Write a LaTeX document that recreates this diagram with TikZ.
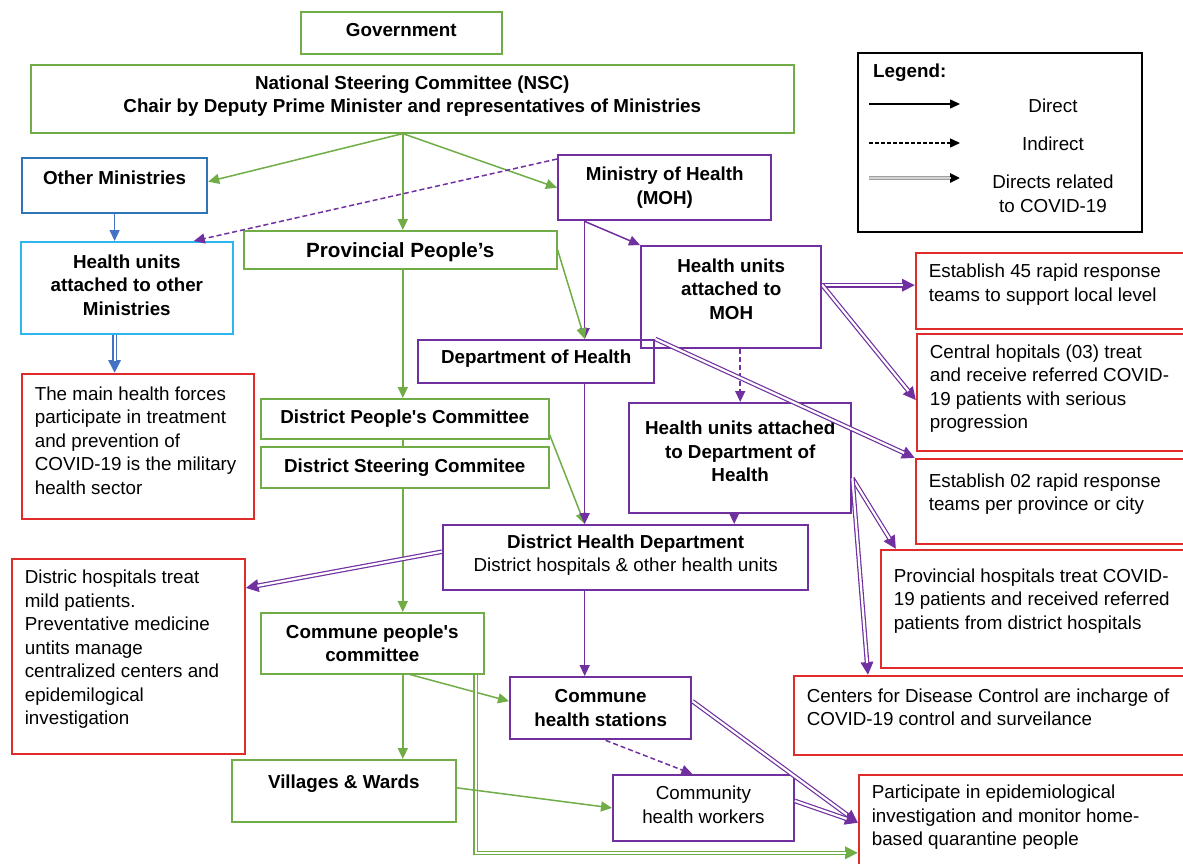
\documentclass[tikz,border=0pt]{standalone}
\usepackage{fontspec}
\setmainfont{Liberation Sans}
\usepackage{tikz}
\usetikzlibrary{arrows.meta}
\definecolor{grn}{HTML}{70AD47}
\definecolor{pur}{HTML}{7030A0}
\definecolor{rd}{HTML}{E02B2B}
\definecolor{blu}{HTML}{2E75B6}
\definecolor{cyn}{HTML}{2DB5F0}
\definecolor{arb}{HTML}{4472C4}

\begin{document}
\begin{tikzpicture}[x=1pt,y=-1pt,
  every node/.style={font=\fontsize{18.8}{23.5}\selectfont, inner sep=0pt, anchor=north west},
  box/.style={draw, align=center, font=\fontsize{18.8}{23.5}\selectfont\bfseries},
  gbox/.style={box, draw=grn, line width=1.6pt},
  pbox/.style={box, draw=pur, line width=2.4pt},
  rbox/.style={draw=rd, line width=1.6pt, align=flush left, inner xsep=13pt},
  tipped/.style={-{Triangle[length=11pt,width=10pt]}},
  garrow/.style={tipped, draw=grn, line width=1.5pt},
  parrow/.style={tipped, draw=pur, line width=1.5pt},
  barrow/.style={tipped, draw=arb, line width=1.5pt},
  pdash/.style={parrow, dash pattern=on 5pt off 3pt},
  dbl/.style={line width=4.6pt, -{Triangle[length=13pt,width=12pt]}, postaction={draw=white, line width=2.2pt, -, shorten >=12pt}},
  pdouble/.style={dbl, draw=pur},
  gdouble/.style={dbl, draw=grn},
  bdouble/.style={dbl, draw=arb},
  karrow/.style={-{Triangle[length=10pt,width=9pt]}, draw=black, line width=1.4pt}]
\useasboundingbox (0,0) rectangle (1183,864);

\node[gbox, minimum width=201pt, minimum height=42pt, text depth=4.8pt] (gov) at (300,11) {Government};
\node[gbox, minimum width=763pt, minimum height=68pt, text depth=9pt] (nsc) at (30,64) {National Steering Committee (NSC)\\Chair by Deputy Prime Minister and representatives of Ministries};
\node[box, draw=blu, line width=2.2pt, minimum width=185pt, minimum height=55pt, text depth=15.8pt] (othmin) at (21,157) {Other Ministries};
\node[box, draw=cyn, line width=1.6pt, minimum width=212pt, minimum height=92pt, text depth=6pt] (hunoth) at (20,241) {Health units\\attached to other\\Ministries};
\node[gbox, minimum width=313pt, minimum height=38pt, text depth=0pt, font=\fontsize{20.6}{24}\selectfont\bfseries] (prov) at (243,230) {Provincial People’s};
\node[pbox, minimum width=213pt, minimum height=65pt] (moh) at (557,154) {Ministry of Health\\(MOH)};
\node[pbox, minimum width=180pt, minimum height=102pt, text depth=16.6pt] (humoh) at (640,245) {Health units\\attached to\\MOH};
\node[pbox, minimum width=236pt, minimum height=43pt, text depth=9.6pt] (doh) at (417,339) {Department of Health};
\node[rbox, text width=254pt, minimum height=76pt, text depth=39.9pt] (red45) at (915,252) {Establish 45 rapid response\\teams to support local level};
\node[rbox, text width=253pt, minimum height=117pt, text depth=81.9pt] (central) at (916,333) {Central hopitals (03) treat\\and receive referred COVID-\\19 patients with serious\\progression};
\node[rbox, text width=254pt, minimum height=85pt, text depth=41.9pt] (red02) at (915,458) {Establish 02 rapid response\\teams per province or city};
\node[gbox, minimum width=288pt, minimum height=40pt] (dpc) at (260,398) {District People\textquotesingle s Committee};
\node[gbox, minimum width=288pt, minimum height=41pt] (dsc) at (260,446) {District Steering Commitee};
\node[pbox, minimum width=222pt, minimum height=110pt, text depth=14pt] (hudoh) at (628,402) {Health units attached\\to Department of\\Health};
\node[rbox, text width=206pt, minimum height=145pt, text depth=105.8pt] (redmil) at (21,373) {The main health forces\\participate in treatment\\and prevention of\\COVID-19 is the military\\health sector};
\node[pbox, minimum width=365pt, minimum height=65pt, text depth=9pt] (dhd) at (442,524) {District Health Department\\{\mdseries District hospitals \& other health units}};
\node[rbox, text width=207pt, minimum height=195pt, text depth=159.2pt] (distric) at (11,558) {Distric hospitals treat\\mild patients.\\Preventative medicine\\untits manage\\centralized centers and\\epidemilogical\\investigation};
\node[rbox, text width=289pt, minimum height=118pt, text depth=67pt] (redprov) at (880,549) {Provincial hospitals treat COVID-\\19 patients and received referred\\patients from district hospitals};
\node[gbox, minimum width=223pt, minimum height=61pt] (cpc) at (260,612) {Commune people\textquotesingle s\\committee};
\node[pbox, minimum width=181pt, minimum height=62pt] (chs) at (509,676) {Commune\\health stations};
\node[rbox, text width=376pt, minimum height=79pt, text depth=39.3pt] (cdc) at (793,675) {Centers for Disease Control are incharge of\\COVID-19 control and surveilance};
\node[gbox, minimum width=224pt, minimum height=62pt, text depth=18.6pt] (vil) at (231,759) {Villages \& Wards};
\node[pbox, line width=1.8pt, font=\fontsize{18.8}{23.5}\selectfont, minimum width=181pt, minimum height=66pt, text depth=6.5pt] (chw) at (612,774) {Community\\health workers};
\node[rbox, text width=311pt, minimum height=100pt, text depth=65.6pt] (part) at (858,774) {Participate in epidemiological\\investigation and monitor home-\\based quarantine people};

\node[draw=black, line width=1.6pt, minimum width=284pt, minimum height=179pt] (leg) at (857,52) {};
\node[anchor=west, font=\fontsize{18.8}{23.5}\selectfont\bfseries] (legt) at (873,73) {Legend:};
\node[anchor=center] (ldir) at (1053,106) {Direct};
\node[anchor=center] (lind) at (1053,144) {Indirect};
\node[anchor=center, align=center] (lcov) at (1053,194) {Directs related\\to COVID-19};
\coordinate (d1) at (869,104);
\coordinate (d2) at (960,104);
\coordinate (i1) at (869,143);
\coordinate (i2) at (960,143);
\coordinate (c1) at (869,178);
\coordinate (c2) at (960,178);
\draw[karrow] (d1) -- (d2);
\draw[karrow, dash pattern=on 4pt off 2pt] (i1) -- (i2);
\draw[draw=gray!75, line width=3.4pt, -{Triangle[length=10pt,width=9pt,color=black]}, postaction={draw=gray!35, line width=1.2pt, -, shorten >=9pt}] (c1) -- (c2);

\coordinate (hub) at ([xshift=-9.5pt]nsc.south);
\coordinate (vx) at ([xshift=-80pt]moh.south);
\coordinate (hm) at ([yshift=12pt]humoh.east);
\coordinate (hd) at ([yshift=-20pt]hudoh.east);

\draw[garrow] (hub) -- ([yshift=4pt]othmin.east);
\draw[garrow] (hub) -- (hub |- prov.north);
\draw[garrow] (hub) -- (moh.west);
\draw[pdash] ([yshift=-5pt]moh.north west) -- ([xshift=67pt]hunoth.north);
\draw[barrow] (othmin.south) -- (othmin.south |- hunoth.north);
\draw[bdouble] (othmin.south |- hunoth.south) -- (othmin.south |- redmil.north);
\draw[parrow] (vx) -- (humoh.north west);
\draw[parrow] (vx) -- (vx |- doh.north);
\draw[garrow] (prov.east) -- (vx |- doh.north);
\draw[garrow] (hub |- prov.south) -- (hub |- dpc.north);
\draw[grn, line width=1.5pt] (hub |- dpc.south) -- (hub |- dsc.north);
\draw[garrow] (hub |- dsc.south) -- (hub |- cpc.north);
\draw[garrow] ([yshift=5pt]dpc.south east) -- (vx |- dhd.north);
\draw[parrow] (vx |- doh.south) -- (vx |- dhd.north);
\draw[pdash] (hudoh.north |- humoh.south) -- (hudoh.north);
\draw[parrow] ([xshift=-6pt]hudoh.south) -- ([xshift=-6pt]hudoh.south |- dhd.north);
\draw[pdouble] (hm) -- (hm -| red45.west);
\draw[pdouble] (hm) -- ([yshift=-8pt]central.west);
\draw[pdouble] (doh.north east) -- (red02.north west);
\draw[pdouble] (hd) -- ([xshift=16pt]redprov.north west);
\draw[pdouble] (hd) -- ([xshift=75pt]cdc.north west);
\draw[pdouble] ([yshift=6pt]dhd.west) -- ([yshift=-30pt]distric.north east);
\draw[parrow] (vx |- dhd.south) -- (vx |- chs.north);
\draw[garrow] ([xshift=38pt]cpc.south) -- ([yshift=7pt]chs.west);
\draw[garrow] (hub |- cpc.south) -- (hub |- vil.north);
\draw[gdouble] ([xshift=-9pt]cpc.south east) |- ([yshift=-28pt]part.west);
\draw[garrow] ([yshift=3pt]vil.east) -- (chw.west);
\draw[pdash] ([xshift=5pt]chs.south) -- ([xshift=-11pt]chw.north);
\draw[pdouble] ([yshift=7pt]chs.east) -- ([yshift=2pt]part.west);
\draw[pdouble] ([yshift=7pt]chw.east) -- ([yshift=2pt]part.west);
\end{tikzpicture}
\end{document}
